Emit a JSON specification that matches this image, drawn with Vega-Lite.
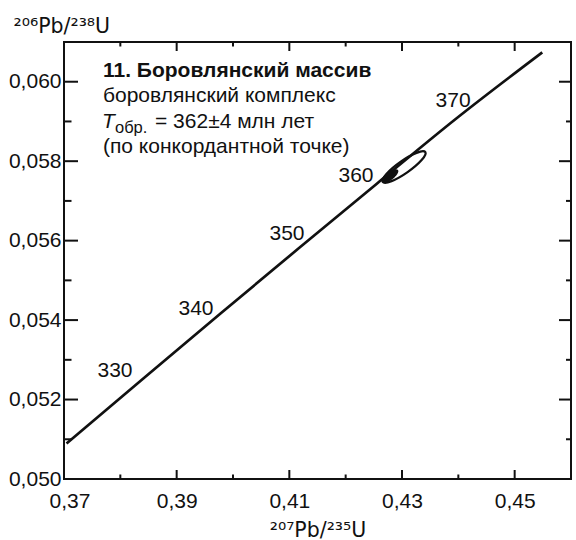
{
  "$schema": "https://vega.github.io/schema/vega-lite/v6.json",
  "width": 507,
  "height": 437,
  "autosize": {"type": "none"},
  "padding": {"left": 64, "top": 42, "right": 5, "bottom": 61},
  "background": "white",
  "title": {
    "text": "²⁰⁷Pb/²³⁵U",
    "frame": "group",
    "anchor": "middle",
    "offset": 38,
    "baseline": "alphabetic",
    "font": "DejaVu Sans",
    "fontSize": 20.5,
    "fontWeight": "normal",
    "color": "#111"
  },
  "config": {
    "view": {"stroke": "#111", "strokeWidth": 2},
    "font": "Liberation Sans",
    "axis": {
      "grid": false,
      "domain": false,
      "ticks": false,
      "labelFont": "Liberation Sans",
      "labelFontSize": 21,
      "labelColor": "#111",
      "labelOverlap": false,
      "titleFont": "DejaVu Sans",
      "titleFontSize": 20.5,
      "titleFontWeight": "normal",
      "titleColor": "#111"
    }
  },
  "datasets": {
    "bottomMajor": [
      {"pb207_u235": 0.39, "pb206_u238": 0.050}, {"pb207_u235": 0.41, "pb206_u238": 0.050},
      {"pb207_u235": 0.43, "pb206_u238": 0.050}, {"pb207_u235": 0.45, "pb206_u238": 0.050}
    ],
    "bottomMinor": [
      {"pb207_u235": 0.38, "pb206_u238": 0.050}, {"pb207_u235": 0.40, "pb206_u238": 0.050},
      {"pb207_u235": 0.42, "pb206_u238": 0.050}, {"pb207_u235": 0.44, "pb206_u238": 0.050}
    ],
    "topMajor": [
      {"pb207_u235": 0.39, "pb206_u238": 0.061}, {"pb207_u235": 0.41, "pb206_u238": 0.061},
      {"pb207_u235": 0.43, "pb206_u238": 0.061}, {"pb207_u235": 0.45, "pb206_u238": 0.061}
    ],
    "topMinor": [
      {"pb207_u235": 0.38, "pb206_u238": 0.061}, {"pb207_u235": 0.40, "pb206_u238": 0.061},
      {"pb207_u235": 0.42, "pb206_u238": 0.061}, {"pb207_u235": 0.44, "pb206_u238": 0.061}
    ],
    "leftMajor": [
      {"pb207_u235": 0.37, "pb206_u238": 0.052}, {"pb207_u235": 0.37, "pb206_u238": 0.054},
      {"pb207_u235": 0.37, "pb206_u238": 0.056}, {"pb207_u235": 0.37, "pb206_u238": 0.058},
      {"pb207_u235": 0.37, "pb206_u238": 0.060}
    ],
    "leftMinor": [
      {"pb207_u235": 0.37, "pb206_u238": 0.051}, {"pb207_u235": 0.37, "pb206_u238": 0.053},
      {"pb207_u235": 0.37, "pb206_u238": 0.055}, {"pb207_u235": 0.37, "pb206_u238": 0.057},
      {"pb207_u235": 0.37, "pb206_u238": 0.059}
    ],
    "rightMajor": [
      {"pb207_u235": 0.46, "pb206_u238": 0.052}, {"pb207_u235": 0.46, "pb206_u238": 0.054},
      {"pb207_u235": 0.46, "pb206_u238": 0.056}, {"pb207_u235": 0.46, "pb206_u238": 0.058},
      {"pb207_u235": 0.46, "pb206_u238": 0.060}
    ],
    "rightMinor": [
      {"pb207_u235": 0.46, "pb206_u238": 0.051}, {"pb207_u235": 0.46, "pb206_u238": 0.053},
      {"pb207_u235": 0.46, "pb206_u238": 0.055}, {"pb207_u235": 0.46, "pb206_u238": 0.057},
      {"pb207_u235": 0.46, "pb206_u238": 0.059}
    ]
  },
  "encoding": {
    "x": {
      "field": "pb207_u235",
      "type": "quantitative",
      "scale": {"domain": [0.37, 0.46], "nice": false, "zero": false},
      "axis": {
        "orient": "bottom",
        "values": [0.37, 0.39, 0.41, 0.43, 0.45],
        "labelExpr": "replace(format(datum.value, '.2f'), '.', ',')",
        "labelPadding": 11,
        "labelFlush": true,
        "labelFlushOffset": 15,
        "title": "²⁰⁷Pb/²³⁵U",
        "titleY": 57,
        "titleBaseline": "alphabetic"
      }
    },
    "y": {
      "field": "pb206_u238",
      "type": "quantitative",
      "scale": {"domain": [0.05, 0.061], "nice": false, "zero": false},
      "axis": {
        "orient": "left",
        "values": [0.050, 0.052, 0.054, 0.056, 0.058, 0.060],
        "labelExpr": "replace(format(datum.value, '.3f'), '.', ',')",
        "labelPadding": 3,
        "labelFlush": false,
        "title": "²⁰⁶Pb/²³⁸U",
        "titleAngle": 0,
        "titleAlign": "left",
        "titleBaseline": "alphabetic",
        "titleX": -51,
        "titleY": -10
      }
    }
  },
  "layer": [
    {
      "data": {
        "values": [
          {"pb207_u235": 0.37045, "pb206_u238": 0.050893},
          {"pb207_u235": 0.38403, "pb206_u238": 0.052524},
          {"pb207_u235": 0.39773, "pb206_u238": 0.054158},
          {"pb207_u235": 0.41156, "pb206_u238": 0.055795},
          {"pb207_u235": 0.42553, "pb206_u238": 0.057434},
          {"pb207_u235": 0.43964, "pb206_u238": 0.059075},
          {"pb207_u235": 0.45490, "pb206_u238": 0.060740}
        ]
      },
      "mark": {"type": "line", "color": "#111", "strokeWidth": 2.7, "interpolate": "monotone"},
      "encoding": {}
    },
    {
      "data": {"name": "bottomMajor"},
      "mark": {"type": "point", "shape": "M 0 0 L 0 -1", "size": 324, "filled": false, "stroke": "#111", "strokeWidth": 2, "opacity": 1}
    },
    {
      "data": {"name": "bottomMinor"},
      "mark": {"type": "point", "shape": "M 0 0 L 0 -1", "size": 81, "filled": false, "stroke": "#111", "strokeWidth": 2, "opacity": 1}
    },
    {
      "data": {"name": "topMajor"},
      "mark": {"type": "point", "shape": "M 0 0 L 0 1", "size": 324, "filled": false, "stroke": "#111", "strokeWidth": 2, "opacity": 1}
    },
    {
      "data": {"name": "topMinor"},
      "mark": {"type": "point", "shape": "M 0 0 L 0 1", "size": 81, "filled": false, "stroke": "#111", "strokeWidth": 2, "opacity": 1}
    },
    {
      "data": {"name": "leftMajor"},
      "mark": {"type": "point", "shape": "M 0 0 L 1 0", "size": 784, "filled": false, "stroke": "#111", "strokeWidth": 2, "opacity": 1}
    },
    {
      "data": {"name": "leftMinor"},
      "mark": {"type": "point", "shape": "M 0 0 L 1 0", "size": 225, "filled": false, "stroke": "#111", "strokeWidth": 2, "opacity": 1}
    },
    {
      "data": {"name": "rightMajor"},
      "mark": {"type": "point", "shape": "M 0 0 L -1 0", "size": 576, "filled": false, "stroke": "#111", "strokeWidth": 2, "opacity": 1}
    },
    {
      "data": {"name": "rightMinor"},
      "mark": {"type": "point", "shape": "M 0 0 L -1 0", "size": 100, "filled": false, "stroke": "#111", "strokeWidth": 2, "opacity": 1}
    },
    {
      "data": {"values": [{"pb207_u235": 0.43036, "pb206_u238": 0.057854}]},
      "mark": {
        "type": "point",
        "shape": "M -1 0 C -1 -0.1325 -0.552 -0.24 0 -0.24 C 0.552 -0.24 1 -0.1325 1 0 C 1 0.1325 0.552 0.24 0 0.24 C -0.552 0.24 -1 0.1325 -1 0 Z",
        "size": 2704,
        "angle": -35,
        "filled": false,
        "stroke": "#111",
        "strokeWidth": 2.3,
        "opacity": 1
      }
    },
    {
      "data": {"values": [{"pb207_u235": 0.42787, "pb206_u238": 0.057627}]},
      "mark": {
        "type": "point",
        "shape": "M -1 0 C -1 -0.22 -0.552 -0.4 0 -0.4 C 0.552 -0.4 1 -0.22 1 0 C 1 0.22 0.552 0.4 0 0.4 C -0.552 0.4 -1 0.22 -1 0 Z",
        "size": 400,
        "angle": -37,
        "filled": true,
        "fill": "#111",
        "opacity": 1
      }
    },
    {
      "data": {
        "values": [
          {"age": "330", "pb207_u235": 0.37905, "pb206_u238": 0.052718},
          {"age": "340", "pb207_u235": 0.39343, "pb206_u238": 0.054279},
          {"age": "350", "pb207_u235": 0.40959, "pb206_u238": 0.056167},
          {"age": "360", "pb207_u235": 0.42184, "pb206_u238": 0.057627},
          {"age": "370", "pb207_u235": 0.43906, "pb206_u238": 0.059515}
        ]
      },
      "mark": {"type": "text", "align": "center", "baseline": "middle", "fontSize": 21, "color": "#111"},
      "encoding": {"text": {"field": "age", "type": "nominal"}}
    },
    {
      "data": {"values": [{"pb207_u235": 0.37692, "pb206_u238": 0.060119, "label": "11. Боровлянский массив"}]},
      "mark": {"type": "text", "align": "left", "baseline": "alphabetic", "fontSize": 21, "fontWeight": "bold", "color": "#111"},
      "encoding": {"text": {"field": "label", "type": "nominal"}}
    },
    {
      "data": {
        "values": [
          {"pb207_u235": 0.37692, "pb206_u238": 0.05949, "label": "боровлянский комплекс"},
          {"pb207_u235": 0.386155, "pb206_u238": 0.058835, "label": "= 362±4 млн лет"},
          {"pb207_u235": 0.37692, "pb206_u238": 0.058206, "label": "(по конкордантной точке)"}
        ]
      },
      "mark": {"type": "text", "align": "left", "baseline": "alphabetic", "fontSize": 21, "color": "#111"},
      "encoding": {"text": {"field": "label", "type": "nominal"}}
    },
    {
      "data": {"values": [{"pb207_u235": 0.37675, "pb206_u238": 0.058835, "label": "T"}]},
      "mark": {"type": "text", "align": "left", "baseline": "alphabetic", "fontSize": 21, "fontStyle": "italic", "color": "#111"},
      "encoding": {"text": {"field": "label", "type": "nominal"}}
    },
    {
      "data": {"values": [{"pb207_u235": 0.37905, "pb206_u238": 0.058709, "label": "обр."}]},
      "mark": {"type": "text", "align": "left", "baseline": "alphabetic", "fontSize": 16.5, "color": "#111"},
      "encoding": {"text": {"field": "label", "type": "nominal"}}
    }
  ]
}
